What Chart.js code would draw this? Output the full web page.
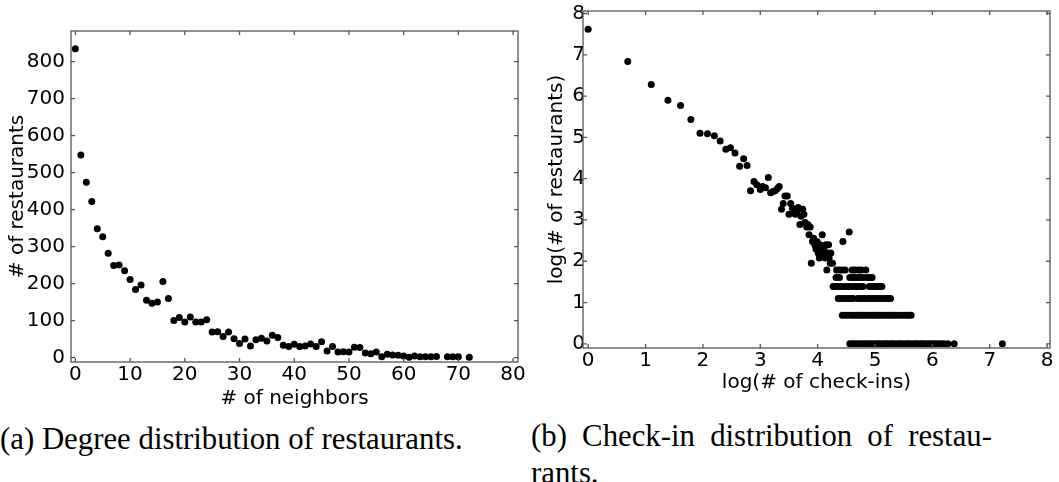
<!DOCTYPE html>
<html lang="en">
<head>
  <meta charset="UTF-8">
  <title>Restaurant distributions</title>
  <script src="https://cdn.jsdelivr.net/npm/chart.js"></script>
  <style>
    body {
      margin: 0;
      padding: 0;
      background: #fff;
    }

    .page {
      position: relative;
      width: 1059px;
      height: 482px;
      overflow: hidden;
      background: #fff;
    }

    canvas {
      position: absolute;
      top: 0;
    }

    #degreeChart { left: 0; }
    #checkinChart { left: 530px; }

    .caption {
      position: absolute;
      font-family: "Liberation Serif", serif;
      font-size: 30.8px;
      line-height: 37px;
      color: #000;
      white-space: nowrap;
    }

    .cap-a { left: 0; top: 421px; }
    .cap-b { left: 531px; top: 418px; width: 461px; }
    .cap-b .l1 { text-align: justify; text-align-last: justify; }
  </style>
</head>
<body>
  <div class="page">
    <canvas id="degreeChart" width="530" height="415"></canvas>
    <canvas id="checkinChart" width="529" height="415"></canvas>
    <div class="caption cap-a">(a) Degree distribution of restaurants.</div>
    <div class="caption cap-b">
      <div class="l1">(b) Check-in distribution of restau-</div>
      <div>rants.</div>
    </div>
  </div>

  <script>
    // (a) degree distribution: # of neighbors -> # of restaurants
    var neighbors = [0, 1, 2, 3, 4, 5, 6, 7, 8, 9, 10, 11, 12, 13, 14, 15, 16, 17, 18, 19,
      20, 21, 22, 23, 24, 25, 26, 27, 28, 29, 30, 31, 32, 33, 34, 35, 36, 37, 38, 39,
      40, 41, 42, 43, 44, 45, 46, 47, 48, 49, 50, 51, 52, 53, 54, 55, 56, 57, 58, 59,
      60, 61, 62, 63, 64, 65, 66, 68, 69, 70, 72];
    var restaurantsByDegree = [835, 548, 474, 422, 348, 327, 282, 249, 250, 235, 211, 184, 196, 155, 147, 150, 206, 160, 100, 108,
      96, 110, 96, 96, 102, 69, 70, 57, 69, 51, 38, 50, 31, 48, 52, 45, 60, 54, 33, 30,
      36, 30, 31, 37, 30, 43, 18, 30, 15, 16, 15, 28, 27, 12, 10, 15, 2, 9, 7, 6,
      4, 1, 4, 2, 2, 2, 3, 2, 2, 2, 1];
    var degreeXTicks = [0, 10, 20, 30, 40, 50, 60, 70, 80];
    var degreeYTicks = [0, 100, 200, 300, 400, 500, 600, 700, 800];

    // (b) check-in distribution: log(# of check-ins) -> log(# of restaurants)
    var logCheckins = [0, 0.69, 1.10, 1.39, 1.61, 1.79, 1.95, 2.08, 2.20, 2.30, 2.40, 2.48, 2.56, 2.64, 2.71, 2.77,
      2.83, 2.89, 2.94, 3.00, 3.04, 3.09, 3.14, 3.18, 3.22, 3.26, 3.30, 3.33, 3.37, 3.40, 3.43, 3.47,
      3.50, 3.53, 3.56, 3.58, 3.61, 3.64, 3.66, 3.69, 3.71, 3.74, 3.76, 3.78, 3.81, 3.83, 3.85, 3.87,
      3.89, 3.91, 3.93, 3.95, 3.97, 3.99, 4.01, 4.03, 4.04, 4.06, 4.08, 4.09, 4.11, 4.13, 4.14, 4.16,
      4.17, 4.19, 4.20, 4.22, 4.23, 4.26, 4.44, 4.55];
    var logRestaurants = [7.62, 6.84, 6.28, 5.90, 5.77, 5.43, 5.10, 5.09, 5.04, 4.91, 4.71, 4.75, 4.62, 4.30, 4.48, 4.32,
      3.71, 3.93, 3.85, 3.74, 3.81, 3.78, 4.03, 3.66, 3.69, 3.71, 3.76, 3.81, 3.26, 3.40, 3.58, 3.58,
      3.14, 3.40, 3.29, 3.20, 3.14, 3.22, 3.30, 2.89, 3.09, 3.26, 3.14, 2.94, 2.83, 2.89, 2.64, 2.83,
      1.95, 2.48, 2.56, 2.40, 2.30, 2.48, 2.20, 2.08, 2.40, 2.30, 2.64, 2.20, 2.30, 2.08, 2.40, 1.79,
      2.20, 2.40, 2.08, 1.95, 2.20, 1.95, 2.48, 2.71];

    // the flat rows at the tail (few restaurants per check-in count)
    var tailLevels = [1.79, 1.61, 1.39, 1.10, 0.69, 0];
    var tailCheckins = [
      [4.33, 4.38, 4.43, 4.48, 4.60, 4.65, 4.71, 4.76, 4.84],
      [4.32, 4.38, 4.56, 4.61, 4.65, 4.70, 4.75, 4.80, 4.87, 4.91, 4.95],
      [4.27, 4.31, 4.36, 4.41, 4.47, 4.51, 4.56, 4.61, 4.66, 4.70, 4.75, 4.79, 4.90, 4.95, 4.99, 5.04, 5.08, 5.12],
      [4.36, 4.40, 4.45, 4.50, 4.54, 4.58, 4.62, 4.70, 4.74, 4.79, 4.83, 4.88, 4.92, 4.97, 5.01, 5.06, 5.10, 5.14,
        5.19, 5.23, 5.27],
      [4.43, 4.48, 4.53, 4.59, 4.63, 4.68, 4.72, 4.77, 4.81, 4.86, 4.90, 4.95, 4.99, 5.04, 5.08, 5.13, 5.17, 5.22,
        5.26, 5.31, 5.35, 5.40, 5.45, 5.50, 5.55, 5.59, 5.63],
      [4.56, 4.60, 4.64, 4.69, 4.74, 4.79, 4.83, 4.88, 4.92, 4.96, 5.01, 5.05, 5.09, 5.14, 5.18, 5.22, 5.27, 5.31,
        5.35, 5.40, 5.44, 5.48, 5.53, 5.57, 5.61, 5.66, 5.70, 5.74, 5.79, 5.83, 5.87, 5.92, 5.96, 6.01, 6.05, 6.10,
        6.15, 6.20, 6.27, 6.38, 7.22]
    ];
    var checkinXTicks = [0, 1, 2, 3, 4, 5, 6, 7, 8];
    var checkinYTicks = [0, 1, 2, 3, 4, 5, 6, 7, 8];

    var font = { family: 'DejaVu Sans', size: 20 };

    // frame with inward ticks on all four sides, like the matplotlib original
    var frameTicks = {
      id: 'frameTicks',
      afterDraw: function (chart) {
        var ctx = chart.ctx;
        var a = chart.chartArea;
        var x = chart.scales.x;
        var y = chart.scales.y;
        ctx.save();
        ctx.strokeStyle = '#555';
        ctx.lineWidth = 1.3;
        ctx.strokeRect(a.left, a.top, a.right - a.left, a.bottom - a.top);
        ctx.beginPath();
        x.ticks.forEach(function (t) {
          var px = x.getPixelForValue(t.value);
          ctx.moveTo(px, a.bottom); ctx.lineTo(px, a.bottom - 4);
          ctx.moveTo(px, a.top); ctx.lineTo(px, a.top + 4);
        });
        y.ticks.forEach(function (t) {
          var py = y.getPixelForValue(t.value);
          ctx.moveTo(a.left, py); ctx.lineTo(a.left + 4, py);
          ctx.moveTo(a.right, py); ctx.lineTo(a.right - 4, py);
        });
        ctx.stroke();
        ctx.restore();
      }
    };

    function makeScatter(canvasId, points, cfg) {
      return new Chart(document.getElementById(canvasId), {
        type: 'scatter',
        data: {
          datasets: [{
            data: points,
            pointRadius: 3.5,
            pointHoverRadius: 3.5,
            pointBorderWidth: 0,
            pointBackgroundColor: '#000'
          }]
        },
        options: {
          responsive: false,
          animation: false,
          layout: { padding: cfg.padding },
          plugins: { legend: { display: false }, tooltip: { enabled: false } },
          scales: {
            x: {
              type: 'linear',
              min: cfg.xMin,
              max: cfg.xMax,
              afterBuildTicks: function (s) { s.ticks = cfg.xTicks.map(function (v) { return { value: v }; }); },
              afterFit: function (s) { s.height = cfg.xHeight; },
              grid: { display: false, drawTicks: false },
              border: { display: false },
              ticks: { font: font, color: '#000', padding: cfg.xPad, maxRotation: 0 },
              title: { display: true, text: cfg.xTitle, font: font, color: '#000', padding: { top: 0, bottom: cfg.xTitlePad } }
            },
            y: {
              type: 'linear',
              min: cfg.yMin,
              max: cfg.yMax,
              afterBuildTicks: function (s) { s.ticks = cfg.yTicks.map(function (v) { return { value: v }; }); },
              afterFit: function (s) { s.width = cfg.yWidth; },
              grid: { display: false, drawTicks: false },
              border: { display: false },
              ticks: { font: font, color: '#000', padding: cfg.yPad },
              title: { display: true, text: cfg.yTitle, font: font, color: '#000', padding: { top: cfg.yTitlePad, bottom: 0 } }
            }
          }
        },
        plugins: [frameTicks]
      });
    }

    var degreePoints = neighbors.map(function (n, i) { return { x: n, y: restaurantsByDegree[i] }; });

    var checkinPoints = logCheckins.map(function (v, i) { return { x: v, y: logRestaurants[i] }; });
    tailLevels.forEach(function (level, r) {
      tailCheckins[r].forEach(function (v) { checkinPoints.push({ x: v, y: level }); });
    });

    makeScatter('degreeChart', degreePoints, {
      padding: { top: 31, right: 12, left: 0, bottom: 0 },
      xMin: -0.8, xMax: 80.9, yMin: -12, yMax: 883,
      xTicks: degreeXTicks, yTicks: degreeYTicks,
      xHeight: 53, yWidth: 71,
      xPad: 1, yPad: 6,
      xTitle: '# of neighbors', yTitle: '# of restaurants',
      xTitlePad: 4, yTitlePad: 6
    });

    makeScatter('checkinChart', checkinPoints, {
      padding: { top: 11, right: 9, left: 0, bottom: 0 },
      xMin: -0.09, xMax: 8.05, yMin: -0.1, yMax: 8.06,
      xTicks: checkinXTicks, yTicks: checkinYTicks,
      xHeight: 67, yWidth: 53,
      xPad: 1, yPad: -2,
      xTitle: 'log(# of check-ins)', yTitle: 'log(# of restaurants)',
      xTitlePad: 20, yTitlePad: 15
    });
  </script>
</body>
</html>
